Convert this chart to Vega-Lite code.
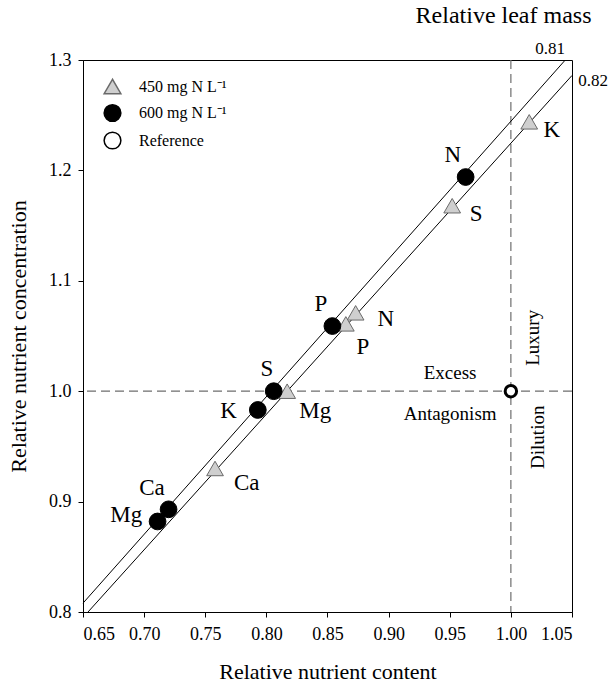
{
  "$schema": "https://vega.github.io/schema/vega-lite/v6.json",
  "width": 489,
  "height": 552,
  "autosize": {"type": "none"},
  "padding": {"left": 83, "top": 60, "right": 44, "bottom": 75},
  "config": {
    "font": "Liberation Serif",
    "view": {"stroke": "black", "strokeWidth": 1},
    "axis": {
      "grid": false,
      "domainColor": "black",
      "tickColor": "black",
      "tickSize": 5,
      "labelColor": "black",
      "titleColor": "black",
      "labelFont": "Liberation Serif",
      "titleFont": "Liberation Serif",
      "labelFontSize": 18,
      "titleFontSize": 22,
      "titleFontWeight": "normal"
    },
    "legend": {
      "labelFont": "Liberation Serif",
      "labelFontSize": 16,
      "labelColor": "black"
    }
  },
  "datasets": {
    "points": [
      {"series": "450  mg N L⁻¹", "element": "K", "x": 1.015, "y": 1.244},
      {"series": "450  mg N L⁻¹", "element": "S", "x": 0.952, "y": 1.168},
      {"series": "450  mg N L⁻¹", "element": "N", "x": 0.873, "y": 1.071},
      {"series": "450  mg N L⁻¹", "element": "P", "x": 0.865, "y": 1.061},
      {"series": "450  mg N L⁻¹", "element": "Mg", "x": 0.817, "y": 1.0},
      {"series": "450  mg N L⁻¹", "element": "Ca", "x": 0.758, "y": 0.93},
      {"series": "600 mg N L⁻¹", "element": "N", "x": 0.963, "y": 1.194},
      {"series": "600 mg N L⁻¹", "element": "P", "x": 0.854, "y": 1.059},
      {"series": "600 mg N L⁻¹", "element": "S", "x": 0.806, "y": 1.0},
      {"series": "600 mg N L⁻¹", "element": "K", "x": 0.793, "y": 0.983},
      {"series": "600 mg N L⁻¹", "element": "Ca", "x": 0.72, "y": 0.893},
      {"series": "600 mg N L⁻¹", "element": "Mg", "x": 0.711, "y": 0.882},
      {"series": "Reference", "element": "", "x": 1.0, "y": 1.0}
    ],
    "lines": [
      {"line": "0.81", "x": 0.65, "y": 0.808},
      {"line": "0.81", "x": 1.0445, "y": 1.3},
      {"line": "0.82", "x": 0.6541, "y": 0.8},
      {"line": "0.82", "x": 1.05, "y": 1.286}
    ],
    "pointLabels": [
      {"label": "K", "x": 1.0335, "y": 1.237},
      {"label": "N", "x": 0.9525, "y": 1.2135},
      {"label": "S", "x": 0.9716, "y": 1.1607},
      {"label": "N", "x": 0.8977, "y": 1.0656},
      {"label": "P", "x": 0.879, "y": 1.0399},
      {"label": "P", "x": 0.8446, "y": 1.0792},
      {"label": "S", "x": 0.8005, "y": 1.0203},
      {"label": "Mg", "x": 0.84, "y": 0.9825},
      {"label": "K", "x": 0.769, "y": 0.982},
      {"label": "Ca", "x": 0.784, "y": 0.917},
      {"label": "Ca", "x": 0.7064, "y": 0.9125},
      {"label": "Mg", "x": 0.6854, "y": 0.888}
    ],
    "regionLabels": [
      {"label": "Excess", "x": 0.9503, "y": 1.0166},
      {"label": "Antagonism", "x": 0.9503, "y": 0.9789}
    ],
    "rotatedLabels": [
      {"label": "Luxury", "x": 1.0184, "y": 1.0484},
      {"label": "Dilution", "x": 1.0225, "y": 0.9583}
    ],
    "lineLabels": [
      {"label": "0.81", "x": 1.0321, "y": 1.3104},
      {"label": "0.82", "x": 1.0673, "y": 1.281}
    ],
    "header": [
      {"label": "Relative leaf mass", "x": 0.994, "y": 1.3395}
    ]
  },
  "layer": [
    {
      "data": {"values": [{"v": 1.0}]},
      "mark": {"type": "rule", "color": "#6e6e6e", "strokeWidth": 1.2, "strokeDash": [9, 5]},
      "encoding": {
        "y": {"field": "v", "type": "quantitative", "scale": {"domain": [0.8, 1.3], "nice": false, "zero": false}}
      }
    },
    {
      "data": {"values": [{"v": 1.0}]},
      "mark": {"type": "rule", "color": "#6e6e6e", "strokeWidth": 1.2, "strokeDash": [9, 5]},
      "encoding": {
        "x": {"field": "v", "type": "quantitative", "scale": {"domain": [0.65, 1.05], "nice": false, "zero": false}}
      }
    },
    {
      "data": {"name": "lines"},
      "mark": {"type": "line", "color": "black", "strokeWidth": 1},
      "encoding": {
        "x": {"field": "x", "type": "quantitative"},
        "y": {"field": "y", "type": "quantitative"},
        "detail": {"field": "line"}
      }
    },
    {
      "data": {"name": "points"},
      "mark": {"type": "point", "opacity": 1, "filled": false},
      "encoding": {
        "x": {
          "field": "x", "type": "quantitative",
          "scale": {"domain": [0.65, 1.05], "nice": false, "zero": false},
          "axis": {"title": "Relative nutrient content", "values": [0.65, 0.7, 0.75, 0.8, 0.85, 0.9, 0.95, 1.0, 1.05], "format": ".2f", "labelPadding": 8, "titlePadding": 18}
        },
        "y": {
          "field": "y", "type": "quantitative",
          "scale": {"domain": [0.8, 1.3], "nice": false, "zero": false},
          "axis": {"title": "Relative nutrient concentration", "values": [0.8, 0.9, 1.0, 1.1, 1.2, 1.3], "format": ".1f", "labelPadding": 7, "titlePadding": 18}
        },
        "shape": {
          "field": "series", "type": "nominal", "sort": null,
          "scale": {"domain": ["450  mg N L⁻¹", "600 mg N L⁻¹", "Reference"], "range": ["triangle-up", "circle", "circle"]},
          "legend": {
            "title": null, "orient": "none", "legendX": 20, "legendY": 17, "padding": 0,
            "labelOffset": 17, "rowPadding": 4.5, "symbolSize": 280,
            "encode": {
              "symbols": {
                "update": {
                  "size": {"signal": "datum.value === 'Reference' ? 130 : 280"},
                  "strokeWidth": {"signal": "datum.value === 'Reference' ? 3 : 1"}
                }
              }
            }
          }
        },
        "fill": {
          "field": "series", "type": "nominal", "sort": null,
          "scale": {"domain": ["450  mg N L⁻¹", "600 mg N L⁻¹", "Reference"], "range": ["#cfcfcf", "black", "white"]}
        },
        "stroke": {
          "field": "series", "type": "nominal", "sort": null,
          "scale": {"domain": ["450  mg N L⁻¹", "600 mg N L⁻¹", "Reference"], "range": ["#6a6a6a", "black", "black"]}
        },
        "size": {
          "condition": {"test": "datum.series === 'Reference'", "value": 130},
          "value": 280
        },
        "strokeWidth": {
          "condition": {"test": "datum.series === 'Reference'", "value": 3},
          "value": 1
        }
      }
    },
    {
      "data": {"name": "pointLabels"},
      "mark": {"type": "text", "font": "Liberation Serif", "fontSize": 23, "color": "black", "align": "center", "baseline": "middle"},
      "encoding": {
        "x": {"field": "x", "type": "quantitative"},
        "y": {"field": "y", "type": "quantitative"},
        "text": {"field": "label"}
      }
    },
    {
      "data": {"name": "regionLabels"},
      "mark": {"type": "text", "font": "Liberation Serif", "fontSize": 19, "color": "black", "align": "center", "baseline": "middle"},
      "encoding": {
        "x": {"field": "x", "type": "quantitative"},
        "y": {"field": "y", "type": "quantitative"},
        "text": {"field": "label"}
      }
    },
    {
      "data": {"name": "rotatedLabels"},
      "mark": {"type": "text", "font": "Liberation Serif", "fontSize": 19, "color": "black", "align": "center", "baseline": "middle", "angle": 270},
      "encoding": {
        "x": {"field": "x", "type": "quantitative"},
        "y": {"field": "y", "type": "quantitative"},
        "text": {"field": "label"}
      }
    },
    {
      "data": {"name": "lineLabels"},
      "mark": {"type": "text", "font": "Liberation Serif", "fontSize": 17, "color": "black", "align": "center", "baseline": "middle"},
      "encoding": {
        "x": {"field": "x", "type": "quantitative"},
        "y": {"field": "y", "type": "quantitative"},
        "text": {"field": "label"}
      }
    },
    {
      "data": {"name": "header"},
      "mark": {"type": "text", "font": "Liberation Serif", "fontSize": 24, "color": "black", "align": "center", "baseline": "middle"},
      "encoding": {
        "x": {"field": "x", "type": "quantitative"},
        "y": {"field": "y", "type": "quantitative"},
        "text": {"field": "label"}
      }
    }
  ]
}
